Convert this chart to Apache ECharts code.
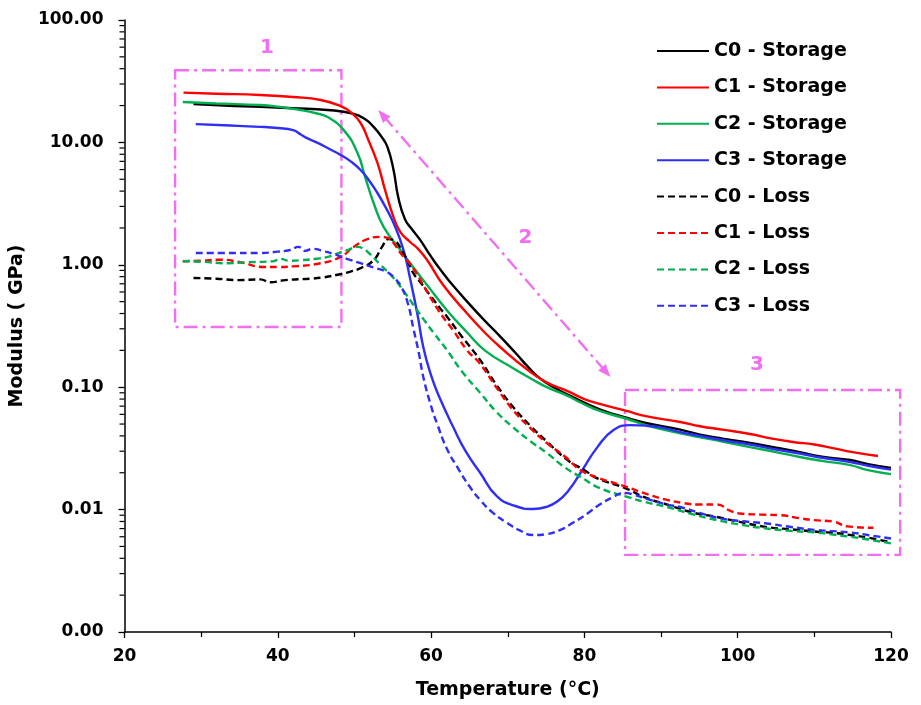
<!DOCTYPE html>
<html><head><meta charset="utf-8">
<script src="https://cdn.jsdelivr.net/npm/echarts@6/dist/echarts.min.js"></script>
<style>html,body{margin:0;padding:0;background:#fff}#c{width:921px;height:705px}</style>
</head><body><div id="c"></div>
<script>
// ---------- data (Temperature °C, Modulus GPa) ----------
const seriesNames = ['C0 - Storage','C1 - Storage','C2 - Storage','C3 - Storage','C0 - Loss','C1 - Loss','C2 - Loss','C3 - Loss'];
const seriesColors = ['#000000','#FF0000','#00B050','#2E2EF5','#000000','#FF0000','#00B050','#2E2EF5'];

const c0Storage = [[29,20.6],[33,20.0],[37.7,19.5],[42,19.0],[46.5,18.4],[49.9,17.1],[51.5,15.3],[52.5,13.4],[53.5,11.2],[54.3,9.2],[55.1,5.95],[55.7,3.6],[56.6,2.35],[57.5,1.95],[58.5,1.62],[59.5,1.3],[60.5,1.05],[61.6,0.85],[62.5,0.72],[64.7,0.5],[66.8,0.36],[69,0.26],[71.2,0.185],[72.5,0.15],[74.2,0.118],[76,0.1],[78.5,0.083],[82,0.066],[85.6,0.056],[88,0.051],[92.5,0.045],[95.1,0.041],[98,0.038],[101.6,0.035],[105,0.032],[108.1,0.0295],[111,0.027],[114.7,0.0254],[117,0.0235],[120,0.0219]];
const c1Storage = [[27.7,25.5],[32,25.0],[37.7,24.4],[42,23.5],[45.6,22.2],[48.2,19.8],[49.5,17.7],[50.8,14.4],[51.8,10.5],[53,6.8],[54,4.08],[55.1,2.45],[56,1.85],[57.2,1.55],[58.3,1.35],[59.5,1.09],[61.6,0.68],[64.7,0.40],[67,0.28],[69,0.213],[72.5,0.14],[75,0.11],[77.8,0.093],[80,0.08],[82,0.073],[85.5,0.064],[88,0.058],[92.5,0.052],[95.1,0.048],[98,0.045],[101.6,0.0415],[104.5,0.038],[107.2,0.0357],[110,0.034],[112.4,0.0318],[115,0.0295],[118.3,0.0274]];
const c2Storage = [[27.6,21.4],[32,20.8],[37.7,20.2],[40,19.6],[43,18.4],[45,17.3],[46.5,16.1],[48.6,12.6],[50.4,8.2],[51.4,5.2],[52.5,3.2],[53.8,2.04],[56,1.32],[57.7,0.95],[59.5,0.68],[62,0.43],[64.7,0.28],[67,0.20],[70.7,0.143],[73.3,0.115],[75.1,0.1],[77.8,0.085],[79.5,0.075],[82,0.064],[85.6,0.055],[88,0.049],[91,0.044],[95.1,0.039],[98,0.036],[101.6,0.0324],[105,0.0295],[108.1,0.0269],[111,0.025],[114.7,0.0231],[117,0.021],[120,0.0195]];
const c3Storage = [[29.3,14.1],[33,13.8],[37.7,13.4],[40,13.1],[42,12.6],[43,11.6],[43.6,11.0],[45.2,9.9],[46.5,9.0],[48.2,7.9],[49.5,7.0],[50.8,5.95],[52,4.8],[53,3.86],[54,3.0],[55.1,2.19],[56.4,1.32],[57.3,0.75],[58.2,0.40],[59,0.21],[60,0.125],[61,0.085],[62.9,0.047],[64.5,0.03],[66.4,0.02],[68.6,0.0128],[71,0.0107],[73.3,0.0101],[75,0.0105],[76.5,0.0117],[78,0.0145],[79.5,0.02],[81.7,0.0324],[83.8,0.0447],[86,0.049],[88,0.0485],[90.3,0.0465],[92.5,0.043],[95.1,0.040],[98,0.037],[101.6,0.034],[105,0.031],[108.1,0.0287],[111,0.0265],[114.7,0.0245],[117,0.0228],[120,0.0212]];
const c0Loss = [[29,0.78],[32,0.77],[34.7,0.75],[37.7,0.76],[39,0.72],[41,0.75],[44.3,0.77],[46,0.79],[47.8,0.83],[49.5,0.88],[50.8,0.94],[52.5,1.09],[53.6,1.40],[54.4,1.62],[55.3,1.57],[56.2,1.3],[56.9,1.09],[57.7,0.85],[58.6,0.72],[60,0.55],[61.2,0.44],[62.1,0.375],[64,0.26],[66.4,0.167],[68.5,0.105],[70.7,0.069],[73,0.048],[75.1,0.036],[77.8,0.0254],[80,0.021],[81.7,0.018],[85.3,0.015],[88,0.0125],[90.8,0.011],[94,0.0095],[97.3,0.0087],[100,0.008],[103.8,0.0072],[107,0.0069],[110.3,0.0066],[112,0.0065],[114.7,0.0062],[117,0.0059],[120,0.0054]];
const c1Loss = [[27.6,1.07],[30,1.08],[32.5,1.1],[35.1,1.05],[38.1,0.96],[40,0.96],[42,0.97],[45.6,1.03],[48.2,1.16],[49.9,1.40],[51.7,1.62],[53.4,1.69],[54.4,1.65],[55.1,1.51],[56,1.25],[56.9,1.08],[57.7,0.93],[59.5,0.6],[61,0.42],[62.9,0.29],[64.7,0.20],[66.4,0.155],[68.5,0.1],[70.7,0.065],[73,0.046],[75.1,0.035],[77.5,0.027],[79.5,0.021],[82,0.018],[85.3,0.0155],[88,0.0135],[90.8,0.012],[93,0.0113],[94.7,0.011],[97.3,0.011],[99,0.0098],[100.3,0.0093],[103,0.0091],[105.5,0.0090],[108.1,0.0085],[110,0.0082],[112.4,0.008],[114.3,0.0073],[117.7,0.0071]];
const c2Loss = [[27.6,1.07],[30,1.06],[33.4,1.03],[36,1.05],[39.4,1.07],[40.3,1.12],[41.5,1.08],[43,1.09],[45,1.12],[46.5,1.16],[48,1.25],[49.1,1.32],[50.4,1.40],[51.2,1.35],[51.7,1.28],[53.4,1.0],[55.1,0.78],[56.5,0.6],[57.7,0.47],[59,0.36],[60.3,0.28],[62.1,0.2],[64,0.135],[66.4,0.09],[68.5,0.063],[70.7,0.047],[73,0.036],[75.1,0.029],[77.5,0.022],[79.5,0.0185],[82,0.015],[85.6,0.0127],[88,0.0115],[90.8,0.0105],[94,0.0092],[97.3,0.0082],[100,0.0076],[103.8,0.0070],[107,0.0067],[110.3,0.0065],[112,0.0063],[114.7,0.0060],[117,0.0057],[120,0.0053]];
const c3Loss = [[29.3,1.25],[33,1.25],[37.7,1.25],[40,1.28],[41.6,1.32],[42.7,1.40],[43.6,1.30],[44.5,1.35],[46,1.29],[47.2,1.23],[49,1.12],[50.8,1.03],[52.5,0.95],[54.3,0.87],[55.3,0.77],[56,0.68],[56.9,0.5],[57.7,0.3],[58.4,0.19],[59,0.12],[60,0.07],[60.8,0.05],[62,0.032],[63.4,0.0223],[65,0.0155],[66.4,0.012],[68,0.0095],[69.9,0.0078],[71.5,0.0068],[73.3,0.0062],[75,0.0063],[76.8,0.0068],[78.5,0.0078],[80.4,0.0093],[82,0.011],[83.8,0.0127],[85.1,0.0137],[86.5,0.0132],[88.2,0.0122],[90.8,0.011],[92.5,0.0105],[95,0.0094],[97.3,0.0086],[100,0.0081],[103.8,0.0077],[107,0.0072],[110.3,0.0068],[112,0.0067],[114.7,0.0065],[117,0.0062],[120,0.0058]];

const allData = [c0Storage,c1Storage,c2Storage,c3Storage,c0Loss,c1Loss,c2Loss,c3Loss];

// axis ticks
const xMin = 20, xMax = 120, xInterval = 20;
const yMin = 0.001, yMax = 100;
const yMinorTicks = [0.002,0.003,0.004,0.005,0.006,0.007,0.008,0.009,
  0.02,0.03,0.04,0.05,0.06,0.07,0.08,0.09,
  0.2,0.3,0.4,0.5,0.6,0.7,0.8,0.9,
  2,3,4,5,6,7,8,9,
  20,30,40,50,60,70,80,90];

// annotation regions (data coordinates: T0, V0, T1, V1)
const boxRegions = [[26.6,0.31,48.3,38.9],[85.3,0.00427,121.2,0.095]];
const arrowRegion = [[53.1,18.4,83.4,0.121]];
const regionLabels = ['1','2','3'];
const regionLabelPos = [[38.6,59],[72.3,1.66],[102.5,0.151]];

const MAG = '#F06EF0';
const FONT = 'DejaVu Sans';
const DASHDOT = [14,5,3,5];

const chart = echarts.init(document.getElementById('c'), null, {renderer:'canvas'});

const series = seriesNames.map((name,i)=>({
  name, type:'line', data: allData[i], showSymbol:false, symbol:'none',
  smooth:0.5, z: 3,
  lineStyle:{color:seriesColors[i], width:2.4, type: i>=4 ? [7,4] : 'solid'},
  itemStyle:{color:seriesColors[i]}
}));

// dash-dot boxes
series.push({
  name:'boxes', type:'custom', silent:true, clip:false, z:2,
  data: boxRegions, encode:{x:[0,2], y:[1,3]},
  renderItem:(params, api)=>{
    const a = api.coord([api.value(0), api.value(3)]);
    const b = api.coord([api.value(2), api.value(1)]);
    return {type:'rect', shape:{x:a[0], y:a[1], width:b[0]-a[0], height:b[1]-a[1]},
      style:{fill:null, stroke:MAG, lineWidth:2.4, lineDash:DASHDOT}};
  }
});
// double-headed dash-dot arrow
series.push({
  name:'arrow', type:'custom', silent:true, clip:false, z:2,
  data: arrowRegion, encode:{x:[0,2], y:[1,3]},
  renderItem:(params, api)=>{
    const p = api.coord([api.value(0), api.value(1)]);
    const q = api.coord([api.value(2), api.value(3)]);
    const dx = q[0]-p[0], dy = q[1]-p[1], L = Math.hypot(dx,dy);
    const ux = dx/L, uy = dy/L, nx = -uy, ny = ux;
    const hl = 13, hw = 5;
    const head = (t, dir)=>[[t[0],t[1]],
      [t[0]+dir*ux*hl+nx*hw, t[1]+dir*uy*hl+ny*hw],
      [t[0]+dir*ux*hl-nx*hw, t[1]+dir*uy*hl-ny*hw]];
    return {type:'group', children:[
      {type:'line', shape:{x1:p[0]+ux*8, y1:p[1]+uy*8, x2:q[0]-ux*8, y2:q[1]-uy*8},
        style:{stroke:MAG, lineWidth:2.4, lineDash:DASHDOT}},
      {type:'polygon', shape:{points:head(p,1)}, style:{fill:MAG}},
      {type:'polygon', shape:{points:head(q,-1)}, style:{fill:MAG}}
    ]};
  }
});
// region labels
series.push({
  name:'regionLabels', type:'custom', silent:true, clip:false, z:2,
  data: regionLabelPos, encode:{x:0, y:1},
  renderItem:(params, api)=>{
    const p = api.coord([api.value(0), api.value(1)]);
    return {type:'text', x:p[0], y:p[1], style:{text:regionLabels[params.dataIndex], fill:MAG,
      font:'bold 20px "DejaVu Sans"', align:'center', verticalAlign:'middle'}};
  }
});
// y-axis minor (log) ticks
series.push({
  name:'yminor', type:'custom', silent:true, clip:false, z:4,
  data: yMinorTicks.map(v=>[xMin, v]),
  encode:{x:0, y:1},
  renderItem:(params, api)=>{
    const p = api.coord([api.value(0), api.value(1)]);
    return {type:'line', shape:{x1:p[0]-5, y1:p[1], x2:p[0], y2:p[1]}, style:{stroke:'#000', lineWidth:1.2}};
  }
});

chart.setOption({
  backgroundColor:'#ffffff',
  animation:false,
  grid:{left:124, right:30, top:20, bottom:73, containLabel:false},
  legend:{
    data: seriesNames, orient:'vertical', left:651, top:35,
    itemWidth:52, itemHeight:14, itemGap:14.4,
    itemStyle:{opacity:0},
    textStyle:{fontFamily:FONT, fontWeight:'bold', fontSize:19, color:'#000', lineHeight:22},
    selectedMode:false
  },
  xAxis:{
    type:'value', min:xMin, max:xMax, interval:xInterval,
    name:'Temperature (°C)', nameLocation:'middle', nameGap:49,
    nameTextStyle:{fontFamily:FONT, fontWeight:'bold', fontSize:19, color:'#000'},
    axisLine:{show:true, lineStyle:{color:'#000', width:1.5}},
    axisTick:{show:true, length:6, lineStyle:{color:'#000', width:1.3}},
    minorTick:{show:true, splitNumber:2, length:5, lineStyle:{color:'#000', width:1.2}},
    splitLine:{show:false},
    axisLabel:{margin:16, fontFamily:FONT, fontWeight:'bold', fontSize:17, color:'#000'}
  },
  yAxis:{
    type:'log', logBase:10, min:yMin, max:yMax,
    name:'Modulus ( GPa)', nameLocation:'middle', nameGap:80, nameRotate:90,
    nameTextStyle:{fontFamily:FONT, fontWeight:'bold', fontSize:19, color:'#000'},
    axisLine:{show:true, lineStyle:{color:'#000', width:1.5}},
    axisTick:{show:true, length:6, lineStyle:{color:'#000', width:1.3}},
    splitLine:{show:false},
    axisLabel:{margin:21, fontFamily:FONT, fontWeight:'bold', fontSize:17, color:'#000',
      formatter:(v)=>Number(v).toFixed(2)}
  },
  series
});
</script></body></html>
